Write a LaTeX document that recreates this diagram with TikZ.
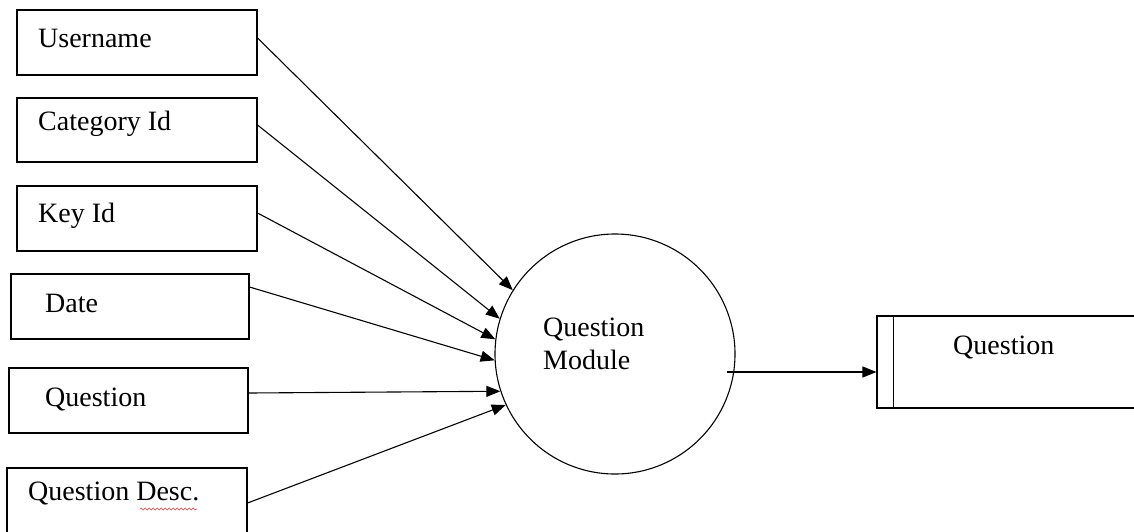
\documentclass[tikz,border=0pt]{standalone}
\usepackage{fontspec}
\setmainfont{Liberation Serif}
\usetikzlibrary{arrows.meta,calc,decorations.pathmorphing}
\begin{document}
\begin{tikzpicture}[x=1pt,y=-1pt,
  box/.style={draw,line width=1.1pt,rectangle,inner sep=0pt},
  lbl/.style={anchor=base west,inner sep=0pt,font=\fontsize{28}{32}\selectfont},
  arr/.style={line width=1.1pt,-{Triangle[length=14pt,width=11pt]}},
  proc/.style={draw,line width=1.1pt,circle,minimum size=240pt,inner sep=0pt}]
\clip (0,0) rectangle (1134,531);
\fill[white] (0,0) rectangle (1134,531);
% input boxes
\node[box,minimum width=240pt,minimum height=65pt] (user) at (137,42.5) {};
\node[box,minimum width=240pt,minimum height=64pt] (cat) at (137,130) {};
\node[box,minimum width=240pt,minimum height=65pt] (key) at (137,218.5) {};
\node[box,minimum width=238pt,minimum height=65pt] (date) at (130,306.5) {};
\node[box,minimum width=239pt,minimum height=65pt] (ques) at (128.5,400.5) {};
\node[box,minimum width=240pt,minimum height=72pt] (desc) at (127,504) {};
\node[lbl] (tuser) at (38,47) {Username};
\node[lbl] (tcat) at (38,130) {Category Id};
\node[lbl] (tkey) at (38,222) {Key Id};
\node[lbl] (tdate) at (45,312) {Date};
\node[lbl] (tques) at (45,406) {Question};
\node[lbl] (tdesc) at (28,500) {Question Desc.};
\draw[red!80,line width=0.6pt,decorate,decoration={snake,amplitude=0.9pt,segment length=4pt}] (140,509) -- (197,509);
% process
\node[proc] (qm) at (615,354) {};
\node[lbl] (tqm1) at (543,336) {Question};
\node[lbl] (tqm2) at (543,369) {Module};
% data store
\node[box,minimum width=273pt,minimum height=92pt] (store) at (1013.5,362) {};
\draw[line width=1.1pt] ([xshift=17pt]store.north west) -- ([xshift=17pt]store.south west);
\node[lbl] (tstore) at (953,354) {Question};
% flows
\draw[arr] ([yshift=4.5pt]user.east) -- (qm.148.7);
\draw[arr] ([yshift=5pt]cat.east) -- (qm.163.7);
\draw[arr] ([yshift=5.5pt]key.east) -- (qm.173.9);
\draw[arr] ([yshift=19.5pt]date.east) -- (qm.183.8);
\draw[arr] ([yshift=7.5pt]ques.east) -- (qm.198.9);
\draw[arr] ([yshift=1pt]desc.east) -- (qm.205.7);
\coordinate (outend) at ([yshift=-10pt]store.west);
\coordinate (outstart) at ($(qm.east |- outend)+(-9,0)$);
\draw[arr] (outstart) -- (outend);
\end{tikzpicture}
\end{document}
